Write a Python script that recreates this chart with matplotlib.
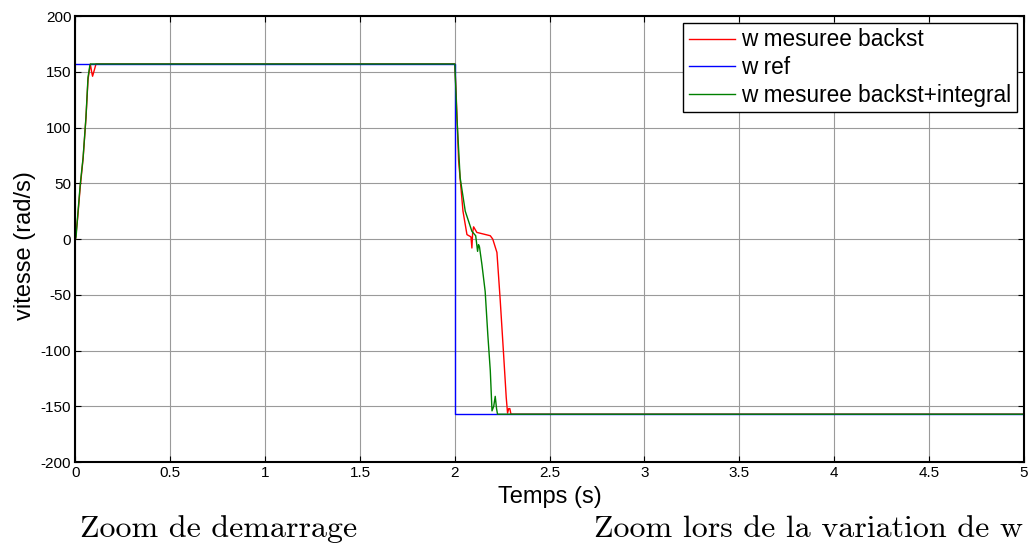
import matplotlib
matplotlib.use("Agg")
import matplotlib.pyplot as plt

# Reference speed (rad/s)
t_ref = [0, 2.0, 2.0, 5.0]
w_ref = [157, 157, -157, -157]

# Measured speed, backstepping
t_back = [0, 0.012, 0.025, 0.04, 0.055, 0.066, 0.078, 0.085, 0.09, 0.1, 0.108,
          2.0, 2.007, 2.02, 2.043, 2.064, 2.085, 2.09, 2.094, 2.099, 2.116, 2.187,
          2.2, 2.222, 2.239, 2.257, 2.271, 2.278, 2.284, 2.29, 2.296, 5.0]
w_back = [0, 20, 47, 72, 108, 143, 157, 150, 146, 152, 157,
          157, 130, 70, 25, 4, 2, -8, 6, 11, 6, 3,
          0, -12, -54, -103, -142, -156, -152, -152, -157, -157]

# Measured speed, backstepping + integral
t_int = [0, 0.003, 0.012, 0.025, 0.04, 0.055, 0.066, 0.076, 0.08,
         2.0, 2.011, 2.028, 2.055, 2.09, 2.11, 2.12, 2.125, 2.13, 2.143, 2.16,
         2.174, 2.187, 2.196, 2.205, 2.213, 2.22, 2.225, 5.0]
w_int = [0, 2, 22, 49, 73, 109, 145, 156, 157,
         157, 109, 55, 25, 7, 3, -11, -5, -7, -23, -47,
         -86, -118, -154, -150, -141, -152, -157, -157]

x_ticks = [0, 0.5, 1, 1.5, 2, 2.5, 3, 3.5, 4, 4.5, 5]
x_labels = ["0", "0.5", "1", "1.5", "2", "2.5", "3", "3.5", "4", "4.5", "5"]
y_ticks = [-200, -150, -100, -50, 0, 50, 100, 150, 200]

plt.rcParams['font.family'] = ['Liberation Sans', 'DejaVu Sans']
plt.rcParams['axes.unicode_minus'] = False

fig = plt.figure(figsize=(10.3, 5.45), dpi=100)
ax = fig.add_axes([0.0733, 0.152, 0.9207, 0.8186])

ax.plot(t_back, w_back, color='#ff0000', lw=1.0, label='w mesuree backst')
ax.plot(t_ref, w_ref, color='#0000ff', lw=1.0, label='w ref')
ax.plot(t_int, w_int, color='#008000', lw=1.0, label='w mesuree backst+integral')

ax.set_xlim(0, 5)
ax.set_ylim(-200, 200)
ax.set_xticks(x_ticks)
ax.set_xticklabels(x_labels)
ax.set_yticks(y_ticks)
ax.grid(True, color='#9a9a9a', lw=0.8)
ax.set_axisbelow(True)
ax.tick_params(direction='in', top=True, right=True, labelsize=11, length=4, pad=3)
for s in ax.spines.values():
    s.set_linewidth(1.5)

ax.set_xlabel('Temps (s)', fontsize=17, labelpad=4)
ax.set_ylabel('vitesse (rad/s)', fontsize=17, labelpad=4)
ax.yaxis.set_label_coords(-0.042, 0.485)

leg = ax.legend(loc='upper right', fontsize=16.3, frameon=True, fancybox=False,
                edgecolor='black', framealpha=1, handlelength=2.05,
                borderaxespad=0.3, borderpad=0.25, labelspacing=0.2, handletextpad=0.27)
leg.get_frame().set_linewidth(1.0)

fig.text(80 / 1030, 1 - 537 / 545, 'Zoom de demarrage', fontfamily='cmr10', fontsize=23,
         ha='left', va='baseline')
fig.text(594 / 1030, 1 - 537 / 545, 'Zoom lors de la variation de w', fontfamily='cmr10',
         fontsize=23, ha='left', va='baseline')

fig.savefig('out.png', dpi=100)
